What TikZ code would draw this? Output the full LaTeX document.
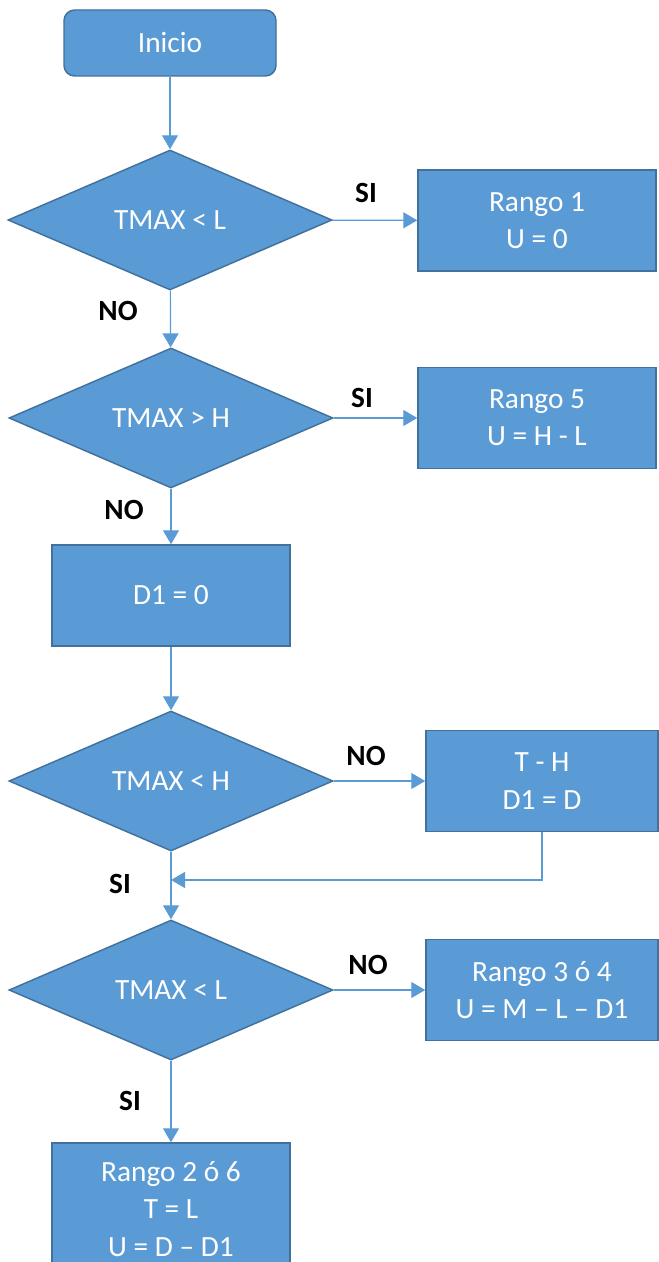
\documentclass[tikz,border=0pt]{standalone}
\usepackage{fontspec}
\setmainfont{Carlito}
\usetikzlibrary{shapes.geometric,arrows.meta,positioning}
\definecolor{boxfill}{RGB}{91,155,213}
\definecolor{boxedge}{RGB}{65,113,156}
\tikzset{
  base/.style={fill=boxfill, draw=boxedge, line width=1.1pt, text=white,
    font=\fontsize{22}{28}\selectfont, align=center, inner sep=0pt},
  startbox/.style={base, rounded corners=8pt, minimum width=159pt, minimum height=49.5pt},
  procbox/.style={base, minimum width=178.5pt, minimum height=75.75pt},
  widebox/.style={base, minimum width=174pt, minimum height=75.75pt},
  decbox/.style={base, diamond, aspect=2.3, minimum width=243pt, minimum height=105pt},
  arr/.style={draw=boxfill, line width=0.9pt, -{Triangle[width=12pt,length=10.5pt]}},
  lbl/.style={font=\fontsize{22}{26}\selectfont\bfseries, text=black}
}
\begin{document}
\begin{tikzpicture}[x=0.75pt,y=-0.75pt]
\useasboundingbox (0,0) rectangle (658,1262);

% Nodes
\node[startbox] (inicio) at (170,43) {Inicio};
\node[decbox] (dec1) at (170,220) {TMAX < L};
\node[procbox] (rango1) at (537,220.5) {Rango 1\\U = 0};
\node[decbox] (dec2) at (171,418) {TMAX > H};
\node[procbox] (rango5) at (537,418) {Rango 5\\U = H - L};
\node[procbox] (dzero) at (171,595.5) {D1 = 0};
\node[decbox] (dec3) at (171,781) {TMAX < H};
\node[widebox] (tmh) at (542,781) {T - H\\D1 = D};
\node[decbox] (dec4) at (171,990) {TMAX < L};
\node[widebox] (rango34) at (542,990) {Rango 3 ó 4\\U = M – L – D1};
\node[procbox, minimum height=99pt] (rango26) at (171,1209) {Rango 2 ó 6\\T = L\\U = D – D1};
\coordinate (join) at (171,880);

% Connectors
\draw[arr] (inicio) -- (dec1);
\draw[arr] (dec1) -- (rango1);
\draw[arr] (dec1) -- (dec2);
\draw[arr] (dec2) -- (rango5);
\draw[arr] (dec2) -- (dzero);
\draw[arr] (dzero) -- (dec3);
\draw[arr] (dec3) -- (tmh);
\draw[arr] (tmh.south) |- (join);
\draw[arr] (dec3) -- (dec4);
\draw[arr] (dec4) -- (rango34);
\draw[arr] (dec4) -- (rango26);

% Labels
\node[lbl] (si1) at (366,193) {SI};
\node[lbl] (no1) at (118,311) {NO};
\node[lbl] (si2) at (362,398) {SI};
\node[lbl] (no2) at (124,510) {NO};
\node[lbl] (no3) at (366,756) {NO};
\node[lbl] (si3) at (120,884) {SI};
\node[lbl] (no4) at (368,965) {NO};
\node[lbl] (si4) at (130,1101) {SI};
\end{tikzpicture}
\end{document}
